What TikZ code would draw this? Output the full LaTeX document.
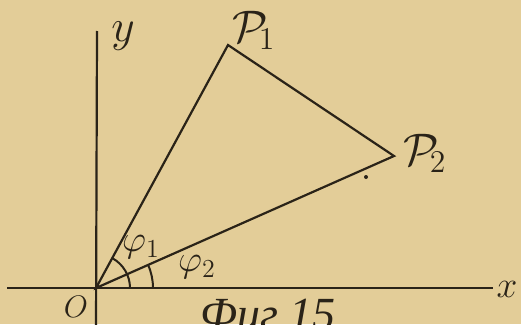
\documentclass[tikz,border=0pt]{standalone}
\usepackage{fontspec}
\newfontfamily\cyrfont{Liberation Serif}
\definecolor{paper}{HTML}{E3CD98}
\definecolor{ink}{HTML}{2A2318}
\begin{document}
\begin{tikzpicture}[x=1pt,y=-1pt,
  axisline/.style={draw=ink,line width=2.2pt},
  edgeline/.style={draw=ink,line width=2.2pt,line join=miter},
  arcline/.style={draw=ink,line width=2pt},
  lab/.style={text=ink,inner sep=0pt,font=\fontsize{20}{20}\selectfont,scale=1.8},
  biglab/.style={text=ink,inner sep=0pt,font=\fontsize{20}{20}\selectfont,scale=2.2},
  anglab/.style={text=ink,inner sep=0pt,font=\fontsize{20}{20}\selectfont,scale=1.8},
  smalllab/.style={text=ink,inner sep=0pt,font=\fontsize{20}{20}\selectfont,scale=1.5}]
\useasboundingbox (0,0) rectangle (521,324);
\clip (0,0) rectangle (521,324);
\fill[paper] (0,0) rectangle (521,324);
% points
\coordinate (O) at (96,288);
\coordinate (P1) at (228,45);
\coordinate (P2) at (394,156);
\coordinate (xs) at (7,288);
\coordinate (xe) at (493,288);
\coordinate (yt) at (97,31);
\coordinate (yb) at (96,330);
% axes
\draw[axisline] (xs) -- (xe);
\draw[axisline] (yb) -- (yt);
% triangle
\draw[edgeline] (O) -- (P1) -- (P2) -- cycle;
% angle arcs
\draw[arcline] (O) ++(34,0) arc[start angle=0,end angle=-61.5,radius=34];
\draw[arcline] (O) ++(57,0) arc[start angle=0,end angle=-23.9,radius=57];
% speck
\fill[ink] (366,177) circle (2);
% labels
\node[biglab] (ly) at (123,36) {$y$};
\node[lab] (lx) at (507,289) {$x$};
\node[biglab] (lP1) at (254,30) {$\mathcal{P}_{\!1}$};
\node[biglab] (lP2) at (425,153) {$\mathcal{P}_{\!2}$};
\node[smalllab] (lO) at (76,307) {$O$};
\node[anglab] (lf1) at (141,247) {$\varphi_1$};
\node[anglab] (lf2) at (197,267) {$\varphi_2$};
\node[text=ink,inner sep=0pt,anchor=base,font=\cyrfont\itshape\fontsize{46}{46}\selectfont] (cap) at (268,329) {Фиг 15};
\end{tikzpicture}
\end{document}
